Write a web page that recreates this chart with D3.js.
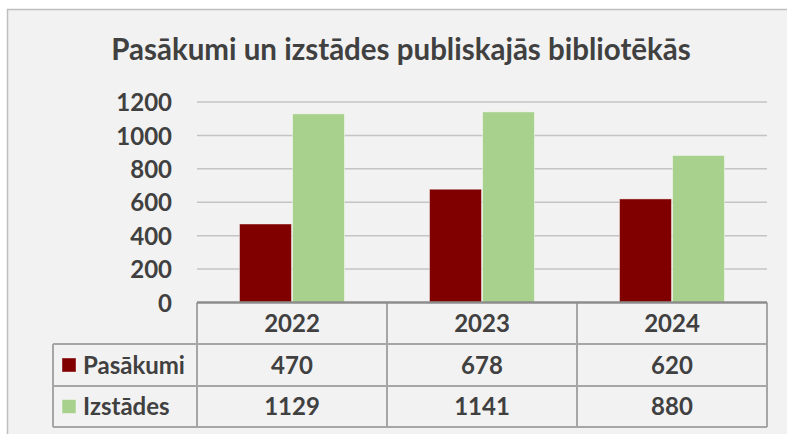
<!DOCTYPE html>
<html>
<head>
<meta charset="utf-8">
<script src="https://cdn.jsdelivr.net/npm/d3@7"></script>
<style>
  html, body { margin: 0; padding: 0; background: #ffffff; }
  svg { display: block; }
  text { font-family: Lato, "Open Sans", sans-serif; font-weight: bold; fill: #404040; }
</style>
</head>
<body>
<svg id="chart" width="787" height="434"></svg>
<script>
const title = "Pasākumi un izstādes publiskajās bibliotēkās";
const years = ["2022", "2023", "2024"];
const seriesNames = ["Pasākumi", "Izstādes"];
const pasakumi = [470, 678, 620];
const izstades = [1129, 1141, 880];
const yTicks = [0, 200, 400, 600, 800, 1000, 1200];
const colors = ["#800000", "#A9D18E"];

const seriesValues = [pasakumi, izstades];
const fs = "24px";

const svg = d3.select("#chart");

// outer chart area
svg.append("rect")
  .attr("x", 7.5).attr("y", 9.5)
  .attr("width", 800).attr("height", 440)
  .attr("fill", "#F2F2F2")
  .attr("stroke", "#BFBFBF").attr("stroke-width", 1.5);

// title
svg.append("text")
  .attr("x", 401).attr("y", 60)
  .attr("text-anchor", "middle")
  .style("font-size", "29.5px")
  .text(title);

const plotLeft = 197, plotRight = 767;
const y = d3.scaleLinear().domain([0, 1200]).range([302.5, 102]);
const x = d3.scaleBand().domain(years).range([plotLeft, plotRight]).padding(0);
const xs = d3.scaleBand().domain(seriesNames).range([42, 148]).padding(0);

// gridlines
svg.append("g")
  .selectAll("line")
  .data(yTicks.filter(d => d > 0))
  .join("line")
  .attr("x1", plotLeft).attr("x2", plotRight)
  .attr("y1", d => y(d)).attr("y2", d => y(d))
  .attr("stroke", "#C4C4C4").attr("stroke-width", 1.5);

// y axis labels
const yAxis = d3.axisLeft(y).tickValues(yTicks).tickFormat(d3.format("d")).tickSize(0).tickPadding(0);
const yg = svg.append("g").attr("transform", "translate(172,0)").call(yAxis);
yg.select(".domain").remove();
yg.selectAll("text")
  .style("font-size", fs)
  .style("font-family", "Lato, 'Open Sans', sans-serif")
  .attr("fill", "#404040")
  .attr("dy", "0.36em");

// bars
const groups = svg.append("g")
  .selectAll("g")
  .data(years)
  .join("g")
  .attr("transform", d => `translate(${x(d)},0)`);

groups.selectAll("rect")
  .data((d, i) => seriesNames.map((s, k) => ({ s, k, v: seriesValues[k][i] })))
  .join("rect")
  .attr("x", d => xs(d.s) + 0.5)
  .attr("width", xs.bandwidth() - 1)
  .attr("y", d => y(d.v))
  .attr("height", d => y(0) - y(d.v))
  .attr("fill", d => colors[d.k])
  .attr("stroke", "#ffffff").attr("stroke-opacity", 0.45).attr("stroke-width", 1);

// data table
const rowTop = [302.5, 344, 386];
const rowBottom = 427;
const tableLeft = 53;
const lineColor = "#A6A6A6";
const tg = svg.append("g");

[344, 386, 427].forEach(yy => {
  tg.append("line").attr("x1", tableLeft).attr("x2", plotRight)
    .attr("y1", yy).attr("y2", yy)
    .attr("stroke", lineColor).attr("stroke-width", 2);
});
const colEdges = years.map(d => x(d)).concat([plotRight]);
colEdges.forEach(xx => {
  tg.append("line").attr("x1", xx).attr("x2", xx)
    .attr("y1", 302.5).attr("y2", rowBottom)
    .attr("stroke", lineColor).attr("stroke-width", 2);
});
tg.append("line").attr("x1", tableLeft).attr("x2", tableLeft)
  .attr("y1", 344).attr("y2", rowBottom)
  .attr("stroke", lineColor).attr("stroke-width", 2);

// axis line (top of table)
svg.append("line")
  .attr("x1", plotLeft).attr("x2", plotRight)
  .attr("y1", y(0)).attr("y2", y(0))
  .attr("stroke", "#8C8C8C").attr("stroke-width", 2.5);

// header labels
tg.selectAll("text.year")
  .data(years)
  .join("text")
  .attr("class", "year")
  .attr("x", d => x(d) + x.bandwidth() / 2)
  .attr("y", (rowTop[0] + 344) / 2)
  .attr("dy", "0.36em")
  .attr("text-anchor", "middle")
  .style("font-size", fs)
  .text(d => d);

// value rows
seriesNames.forEach((s, k) => {
  const cy = (rowTop[k + 1] + (k === 0 ? 386 : 427)) / 2;
  tg.append("rect")
    .attr("x", 62).attr("y", cy - 7)
    .attr("width", 14).attr("height", 14)
    .attr("fill", colors[k])
    .attr("stroke", "#ffffff").attr("stroke-opacity", 0.4);
  tg.append("text")
    .attr("x", 83).attr("y", cy).attr("dy", "0.36em")
    .style("font-size", fs)
    .text(s);
  tg.selectAll("text.v" + k)
    .data(years)
    .join("text")
    .attr("class", "v" + k)
    .attr("x", d => x(d) + x.bandwidth() / 2)
    .attr("y", cy).attr("dy", "0.36em")
    .attr("text-anchor", "middle")
    .style("font-size", fs)
    .text((d, i) => seriesValues[k][i]);
});
</script>
</body>
</html>
